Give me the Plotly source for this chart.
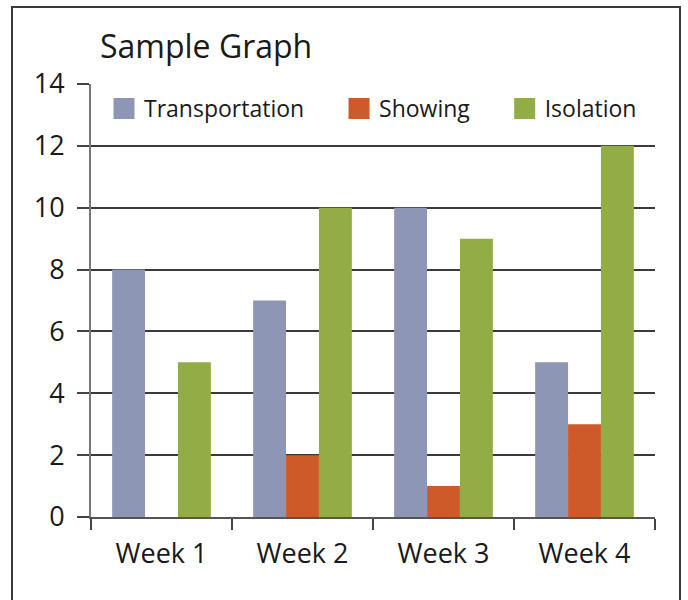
import plotly.graph_objects as go

categories = ["Week 1", "Week 2", "Week 3", "Week 4"]
series_names = ["Transportation", "Showing", "Isolation"]
transportation = [8, 7, 10, 5]
showing = [0, 2, 1, 3]
isolation = [5, 10, 9, 12]
y_ticks = [0, 2, 4, 6, 8, 10, 12, 14]

colors = ["#8D97B5", "#CD5A28", "#92AD46"]
values = [transportation, showing, isolation]
legend_pad = ["\u00a0" * 5, "\u00a0" * 5, ""]

FONT = "Open Sans"

fig = go.Figure()
for name, vals, col in zip(series_names, values, colors):
    fig.add_trace(go.Bar(
        x=categories, y=vals, name=name,
        marker=dict(color=col, line=dict(width=0)),
        showlegend=False,
    ))
# legend proxies (larger swatches)
for name, col, pad in zip(series_names, colors, legend_pad):
    fig.add_trace(go.Scatter(
        x=[None], y=[None], mode="markers", name=name + pad,
        marker=dict(symbol="square", size=16, color=col,
                    line=dict(color=col, width=5)),
        showlegend=True,
    ))

W, H = 688, 600
ml, mr, mt, mb = 91, 33, 84, 83
pw, ph = W - ml - mr, H - mt - mb

def px_to_paper_x(px):
    return (px - ml) / pw

def px_to_paper_y(py):
    return (H - mb - py) / ph

fig.update_layout(
    width=W, height=H,
    margin=dict(l=ml, r=mr, t=mt, b=mb, pad=0),
    paper_bgcolor="white", plot_bgcolor="white",
    barmode="group", bargap=0.3, bargroupgap=0,
    font=dict(family=FONT, color="#1a1a1a"),
    title=dict(text="Sample Graph", x=100 / W, xanchor="left",
               y=1 - 47 / H, yanchor="middle",
               font=dict(family=FONT, size=32, color="#1a1a1a")),
    legend=dict(orientation="h", x=px_to_paper_x(104), xanchor="left",
                y=px_to_paper_y(87), yanchor="top", bgcolor="rgba(0,0,0,0)",
                font=dict(family=FONT, size=23, color="#1a1a1a"),
                itemwidth=30, tracegroupgap=0),
    xaxis=dict(
        showline=True, linecolor="#555555", linewidth=2,
        ticks="outside", tickson="boundaries", ticklen=11, tickwidth=2,
        tickcolor="#444444", showgrid=False,
        tickfont=dict(family=FONT, size=27, color="#1a1a1a"),
        ticklabelstandoff=12,
    ),
    yaxis=dict(
        range=[0, 14], tickvals=y_ticks,
        showline=True, linecolor="#777777", linewidth=2,
        ticks="outside", ticklen=12, tickwidth=2, tickcolor="#444444",
        showgrid=True, gridcolor="#3a3a3a", gridwidth=2,
        zeroline=False,
        tickfont=dict(family=FONT, size=27, color="#1a1a1a"),
        ticklabelstandoff=7,
    ),
    shapes=[dict(type="rect", xref="paper", yref="paper",
                 x0=px_to_paper_x(12), x1=px_to_paper_x(680),
                 y0=px_to_paper_y(605), y1=px_to_paper_y(7),
                 line=dict(color="#3a3a3a", width=2),
                 fillcolor="rgba(0,0,0,0)", layer="above")],
)

fig.write_html("out.html", config={"displayModeBar": False},
               post_script="document.body.style.margin='0';")
